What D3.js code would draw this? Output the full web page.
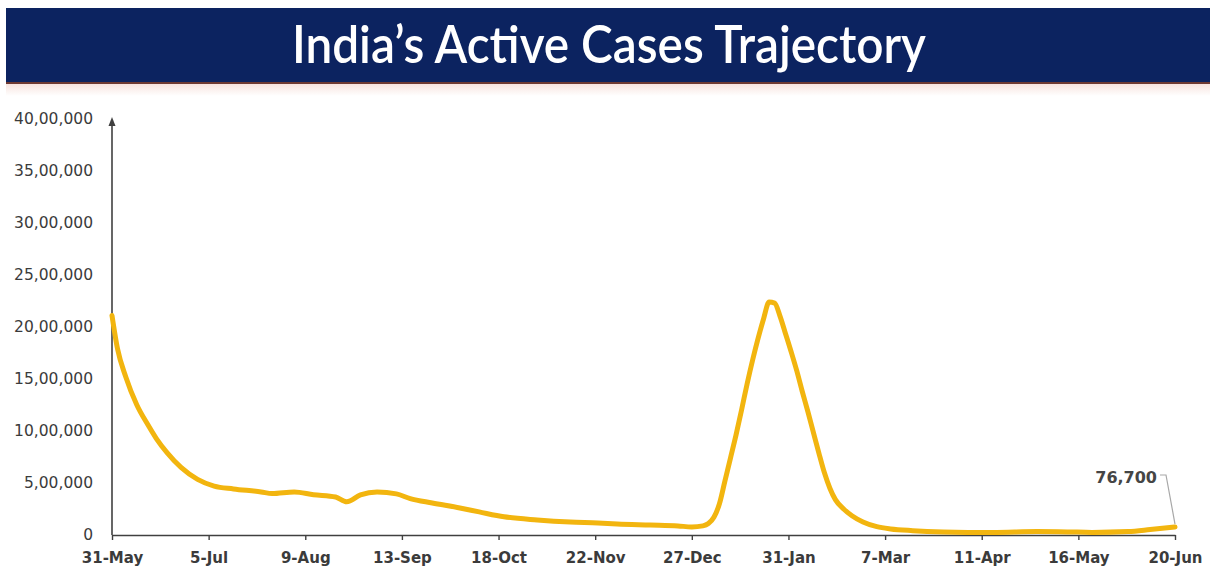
<!DOCTYPE html>
<html>
<head>
<meta charset="utf-8">
<script src="https://cdn.jsdelivr.net/npm/d3@7"></script>
<style>
  html, body { margin: 0; padding: 0; background: #ffffff; }
  svg { display: block; }
</style>
</head>
<body>
<svg id="chart" width="1216" height="567"></svg>
<script>
// Active COVID-19 cases in India, 31 May 2021 to 20 June 2022
const dates = [
  "2021-05-31","2021-06-02","2021-06-05","2021-06-09","2021-06-13","2021-06-16","2021-06-20",
  "2021-06-25","2021-07-01","2021-07-07","2021-07-14","2021-07-24","2021-07-28","2021-08-05",
  "2021-08-12","2021-08-20","2021-08-24","2021-08-29","2021-09-04","2021-09-11","2021-09-16",
  "2021-09-24","2021-10-04","2021-10-11","2021-10-20","2021-11-01","2021-11-13","2021-11-23",
  "2021-11-30","2021-12-12","2021-12-22","2021-12-27","2021-12-31","2022-01-02","2022-01-04",
  "2022-01-06","2022-01-08","2022-01-10","2022-01-12","2022-01-14","2022-01-16","2022-01-18",
  "2022-01-20","2022-01-22","2022-01-24","2022-01-26","2022-01-28","2022-01-30","2022-02-01",
  "2022-02-03","2022-02-05","2022-02-07","2022-02-09","2022-02-11","2022-02-13","2022-02-15",
  "2022-02-17","2022-02-20","2022-02-23","2022-02-27","2022-03-04","2022-03-09","2022-03-17",
  "2022-03-28","2022-04-15","2022-05-01","2022-05-12","2022-05-21","2022-06-03","2022-06-11",
  "2022-06-20"
];
const activeCases = [
  2110000,1790000,1520000,1250000,1060000,930000,790000,
  650000,535000,470000,443000,414000,398000,414000,
  388000,366000,320000,386000,414000,395000,350000,
  308000,260000,222000,175000,145000,125000,116000,
  106000,96000,87000,78000,88000,110000,170000,
  300000,520000,740000,960000,1200000,1450000,1680000,
  1890000,2080000,2240000,2230000,2100000,1930000,1760000,
  1580000,1380000,1190000,990000,790000,600000,450000,
  340000,250000,185000,125000,80000,58000,42000,
  30000,24000,33000,30000,25000,33000,52000,
  76700
];

const xTickDates = [
  "2021-05-31","2021-07-05","2021-08-09","2021-09-13","2021-10-18","2021-11-22",
  "2021-12-27","2022-01-31","2022-03-07","2022-04-11","2022-05-16","2022-06-20"
];
const xTickLabels = [
  "31-May","5-Jul","9-Aug","13-Sep","18-Oct","22-Nov",
  "27-Dec","31-Jan","7-Mar","11-Apr","16-May","20-Jun"
];
const yTicks = [0,500000,1000000,1500000,2000000,2500000,3000000,3500000,4000000];

const titleText = "India\u2019s Active Cases Trajectory";

// Indian digit grouping: 40,00,000
function indianFormat(n) {
  const s = String(Math.round(n));
  if (s.length <= 3) return s;
  const last3 = s.slice(-3);
  let rest = s.slice(0, -3);
  const parts = [];
  while (rest.length > 2) { parts.unshift(rest.slice(-2)); rest = rest.slice(0, -2); }
  if (rest.length) parts.unshift(rest);
  return parts.join(",") + "," + last3;
}

const parse = d3.timeParse("%Y-%m-%d");
const data = dates.map((d, i) => ({ date: parse(d), value: activeCases[i] }));

const svg = d3.select("#chart");
const textColor = "#3b3b3b";

// ---- header banner ----
const defs = svg.append("defs");
const grad = defs.append("linearGradient").attr("id", "fade")
  .attr("x1", 0).attr("y1", 0).attr("x2", 0).attr("y2", 1);
grad.append("stop").attr("offset", "0%").attr("stop-color", "#f7e4df");
grad.append("stop").attr("offset", "100%").attr("stop-color", "#ffffff");

svg.append("rect").attr("x", 6).attr("y", 84).attr("width", 1204).attr("height", 12)
  .attr("fill", "url(#fade)");
svg.append("rect").attr("x", 6).attr("y", 8).attr("width", 1204).attr("height", 75)
  .attr("fill", "#0c2360");
svg.append("rect").attr("x", 6).attr("y", 82).attr("width", 1204).attr("height", 2)
  .attr("fill", "#6e3a33");

svg.append("text")
  .attr("x", 292).attr("y", 63)
  .attr("font-family", "Lato, 'Open Sans', sans-serif")
  .attr("font-weight", 600)
  .attr("font-size", 51)
  .attr("fill", "#ffffff")
  .attr("textLength", 634)
  .attr("lengthAdjust", "spacingAndGlyphs")
  .text(titleText);

// ---- scales ----
const x = d3.scaleTime()
  .domain([parse(xTickDates[0]), parse(xTickDates[xTickDates.length - 1])])
  .range([112, 1175]);
const y = d3.scaleLinear().domain([0, 4000000]).range([535, 119]);

// ---- y axis ----
const yAxis = d3.axisLeft(y).tickValues(yTicks).tickFormat(indianFormat).tickSize(0).tickPadding(19);
const gy = svg.append("g").attr("transform", "translate(112,0)").call(yAxis);
gy.select(".domain").remove();
gy.selectAll("text")
  .attr("font-family", "'DejaVu Sans', sans-serif")
  .attr("font-size", 15.5)
  .attr("fill", textColor);

svg.append("line")
  .attr("x1", 112).attr("x2", 112).attr("y1", y(0)).attr("y2", 122)
  .attr("stroke", "#404040").attr("stroke-width", 1.6);
svg.append("path")
  .attr("d", d3.line()([[108.5, 126], [112, 117], [115.5, 126]]) + "Z")
  .attr("fill", "#404040");

// ---- x axis ----
const xAxis = d3.axisBottom(x)
  .tickValues(xTickDates.map(parse))
  .tickFormat((d, i) => xTickLabels[i])
  .tickSizeInner(5).tickSizeOuter(0).tickPadding(12);
const gx = svg.append("g").attr("transform", `translate(0,${y(0)})`).call(xAxis);
gx.select(".domain").attr("stroke", "#404040").attr("stroke-width", 1.6);
gx.selectAll(".tick line").attr("stroke", "#404040").attr("stroke-width", 1.4);
gx.selectAll("text")
  .attr("font-family", "'DejaVu Sans', sans-serif")
  .attr("font-weight", "bold")
  .attr("font-size", 15)
  .attr("fill", textColor);

// ---- active cases line ----
const line = d3.line()
  .x(d => x(d.date))
  .y(d => y(d.value))
  .curve(d3.curveMonotoneX);

svg.append("path")
  .datum(data)
  .attr("fill", "none")
  .attr("stroke", "#f2b50f")
  .attr("stroke-width", 5)
  .attr("stroke-linejoin", "round")
  .attr("stroke-linecap", "round")
  .attr("d", line);

// ---- latest value callout ----
const last = data[data.length - 1];
const lx = x(last.date), ly = y(last.value);
svg.append("path")
  .attr("d", d3.line()([[1160, 475], [1166, 475], [lx, ly - 3]]))
  .attr("fill", "none")
  .attr("stroke", "#a8a8a8")
  .attr("stroke-width", 1.2);
svg.append("text")
  .attr("x", 1157).attr("y", 483)
  .attr("text-anchor", "end")
  .attr("font-family", "'DejaVu Sans', sans-serif")
  .attr("font-weight", "bold")
  .attr("font-size", 16)
  .attr("fill", "#454545")
  .text(indianFormat(last.value));
</script>
</body>
</html>
